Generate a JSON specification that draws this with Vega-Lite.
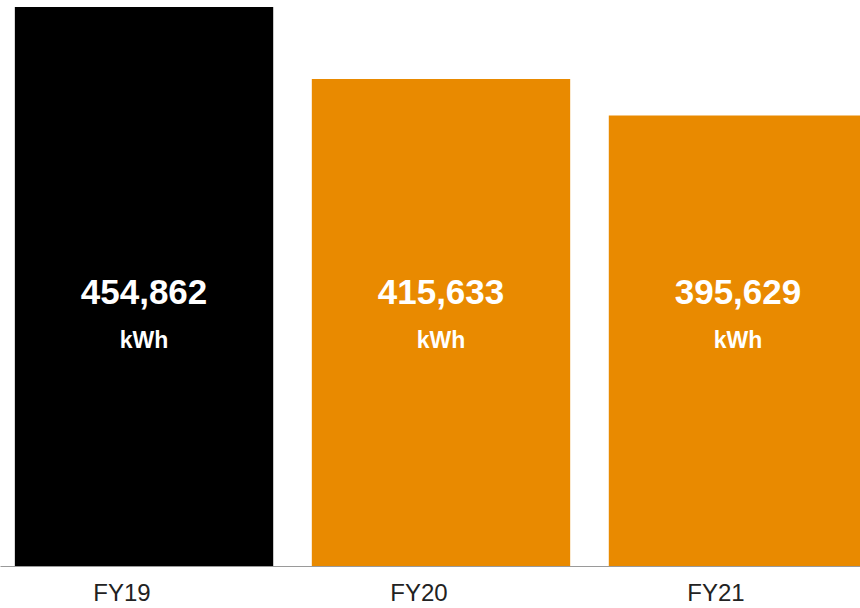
{
  "$schema": "https://vega.github.io/schema/vega-lite/v6.json",
  "width": 882,
  "height": 566,
  "autosize": {"type": "none"},
  "padding": {"left": 0, "top": 0, "right": 0, "bottom": 42},
  "background": "white",
  "config": {"view": {"stroke": null}, "font": "Liberation Sans"},
  "data": {
    "values": [
      {"year": "FY19", "kwh": 454862, "label": "454,862", "unit": "kWh"},
      {"year": "FY20", "kwh": 415633, "label": "415,633", "unit": "kWh"},
      {"year": "FY21", "kwh": 395629, "label": "395,629", "unit": "kWh"}
    ]
  },
  "encoding": {
    "x": {
      "field": "year",
      "type": "nominal",
      "sort": null,
      "scale": {"paddingInner": 0.13, "paddingOuter": 0.05},
      "axis": {
        "title": null,
        "labelAngle": 0,
        "ticks": false,
        "grid": false,
        "domainColor": "#9a9a9a",
        "domainWidth": 1,
        "labelFontSize": 24,
        "labelColor": "#222222",
        "labelFont": "Liberation Sans",
        "labelPadding": 15,
        "labelOffset": -22
      }
    }
  },
  "layer": [
    {
      "mark": {"type": "bar", "clip": true},
      "encoding": {
        "y": {
          "field": "kwh",
          "type": "quantitative",
          "scale": {"domain": [150000, 458680], "zero": false, "nice": false},
          "axis": null
        },
        "color": {
          "field": "year",
          "type": "nominal",
          "scale": {"domain": ["FY19", "FY20", "FY21"], "range": ["#000000", "#E98A00", "#E98A00"]},
          "legend": null
        }
      }
    },
    {
      "mark": {"type": "text", "color": "white", "fontWeight": "bold", "fontSize": 35, "baseline": "middle", "align": "center"},
      "encoding": {
        "y": {"datum": 298900, "type": "quantitative"},
        "text": {"field": "label"}
      }
    },
    {
      "mark": {"type": "text", "color": "white", "fontWeight": "bold", "fontSize": 23, "baseline": "middle", "align": "center"},
      "encoding": {
        "y": {"datum": 272700, "type": "quantitative"},
        "text": {"field": "unit"}
      }
    }
  ]
}
